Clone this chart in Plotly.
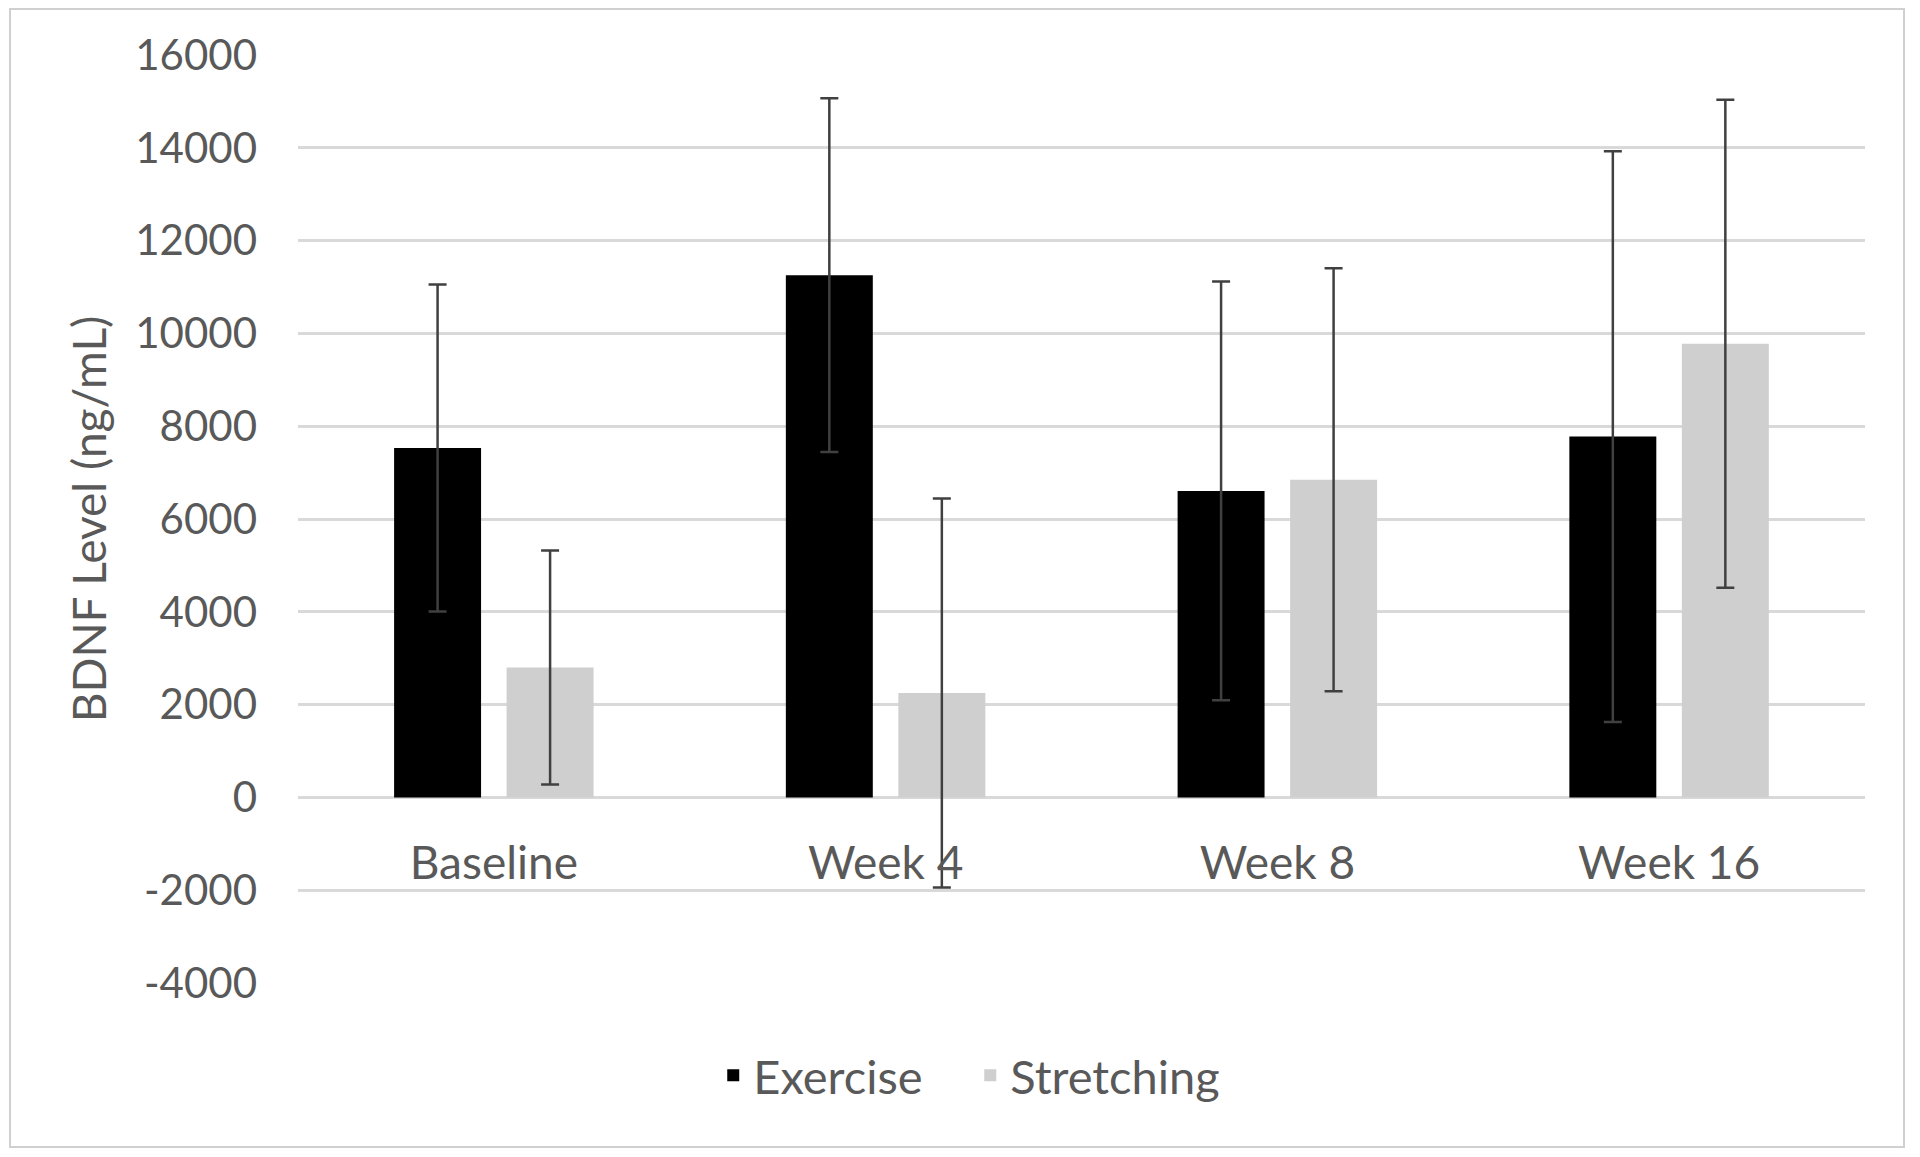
import plotly.graph_objects as go

categories = ["Baseline", "Week 4", "Week 8", "Week 16"]
exercise = [7530, 11255, 6605, 7777]
exercise_err = [3522, 3813, 4511, 6151]
stretching = [2800, 2250, 6845, 9777]
stretching_err = [2520, 4190, 4557, 5259]
y_tick_vals = [-4000, -2000, 0, 2000, 4000, 6000, 8000, 10000, 12000, 14000, 16000]
y_tick_text = ["-4000", "-2000", "0", "2000", "4000", "6000", "8000", "10000", "12000", "14000", "16000"]

FONT = "Lato, 'Open Sans', sans-serif"
TXT = "#595959"

fig = go.Figure()
fig.add_trace(go.Bar(
    name="Exercise", x=categories, y=exercise,
    width=0.222, offset=-0.2547,
    marker=dict(color="#000000", line=dict(width=0)),
    error_y=dict(type="data", array=exercise_err, visible=True,
                 color="#404040", thickness=2.5, width=9),
))
fig.add_trace(go.Bar(
    name="Stretching", x=categories, y=stretching,
    width=0.222, offset=0.0325,
    marker=dict(color="#cfcfcf", line=dict(width=0)),
    error_y=dict(type="data", array=stretching_err, visible=True,
                 color="#404040", thickness=2.5, width=9),
))

fig.update_layout(
    width=1912, height=1149,
    margin=dict(l=290, r=55, t=47, b=174),
    paper_bgcolor="white", plot_bgcolor="white",
    barmode="overlay",
    font=dict(family=FONT, color=TXT, size=44),
    showlegend=True,
    legend=dict(orientation="h", x=0.429, xanchor="center", y=-0.1, yanchor="middle",
                entrywidth=212,
                font=dict(size=47, color=TXT), bgcolor="rgba(0,0,0,0)"),
    xaxis=dict(
        type="category", range=[-0.5, 3.5], anchor="free", position=0.2,
        showline=False, showgrid=False, zeroline=False, ticks="",
        ticklabelstandoff=35,
        tickfont=dict(size=46, color=TXT, family=FONT),
    ),
    yaxis=dict(
        range=[-4000, 16000], tickvals=y_tick_vals, ticktext=y_tick_text,
        showgrid=True, gridcolor="#d9d9d9", gridwidth=3,
        zeroline=True, zerolinecolor="#d9d9d9", zerolinewidth=3,
        showline=False, ticks="", ticklabelstandoff=40,
        tickfont=dict(size=42, color=TXT, family=FONT),
        title=dict(text="BDNF Level (ng/mL)", font=dict(size=46, color=TXT, family=FONT), standoff=14),
        automargin=True,
    ),
    shapes=[dict(type="rect", xref="paper", yref="paper",
                 x0=-0.1838, x1=1.0249, y0=-0.1767, y1=1.0496,
                 line=dict(color="#d0d0d0", width=2), fillcolor="rgba(0,0,0,0)", layer="below")],
)

fig.write_html("out.html")
